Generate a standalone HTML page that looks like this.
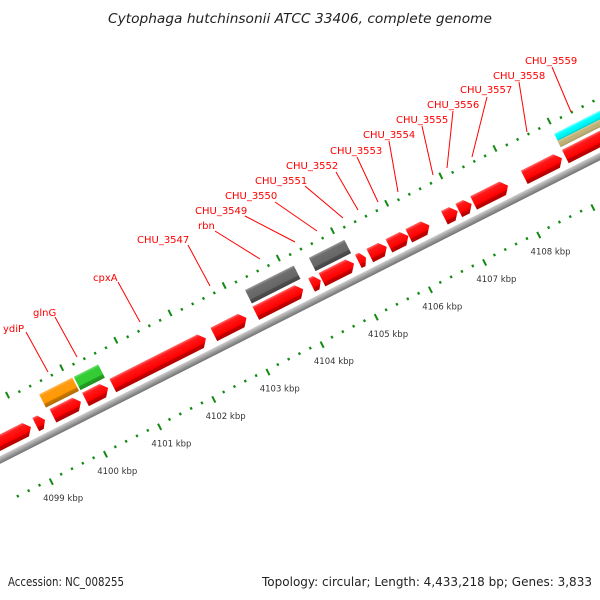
<!DOCTYPE html>
<html><head><meta charset="utf-8">
<style>
html,body{margin:0;padding:0;background:#fff;}
svg{display:block;font-family:"DejaVu Sans","Liberation Sans",sans-serif;}
</style></head>
<body>
<svg id="map" width="600" height="600" viewBox="0 0 600 600" xmlns="http://www.w3.org/2000/svg">
<defs>
<linearGradient id="gRed" x1="0" y1="0" x2="0" y2="1">
<stop offset="0" stop-color="#ff6a6a"/><stop offset="0.18" stop-color="#ff1a1a"/><stop offset="0.7" stop-color="#f00"/><stop offset="0.75" stop-color="#c80000"/><stop offset="1" stop-color="#b00000"/></linearGradient>
<linearGradient id="gGray" x1="0" y1="0" x2="0" y2="1">
<stop offset="0" stop-color="#9a9a9a"/><stop offset="0.18" stop-color="#6e6e6e"/><stop offset="0.7" stop-color="#666"/><stop offset="0.75" stop-color="#4e4e4e"/><stop offset="1" stop-color="#444"/></linearGradient>
<linearGradient id="gOrange" x1="0" y1="0" x2="0" y2="1">
<stop offset="0" stop-color="#ffbb55"/><stop offset="0.18" stop-color="#ff9a10"/><stop offset="0.7" stop-color="#f90"/><stop offset="0.75" stop-color="#c87800"/><stop offset="1" stop-color="#b06a00"/></linearGradient>
<linearGradient id="gGreen" x1="0" y1="0" x2="0" y2="1">
<stop offset="0" stop-color="#77e077"/><stop offset="0.18" stop-color="#3c3"/><stop offset="0.7" stop-color="#3c3"/><stop offset="0.75" stop-color="#26a026"/><stop offset="1" stop-color="#1f8f1f"/></linearGradient>
<linearGradient id="gCyan" x1="0" y1="0" x2="0" y2="1">
<stop offset="0" stop-color="#8ff"/><stop offset="0.3" stop-color="#0ff"/><stop offset="0.8" stop-color="#0ee"/><stop offset="1" stop-color="#0bb"/></linearGradient>
<linearGradient id="gTan" x1="0" y1="0" x2="0" y2="1">
<stop offset="0" stop-color="#d8cc98"/><stop offset="0.3" stop-color="#c2b47a"/><stop offset="0.8" stop-color="#bbad72"/><stop offset="1" stop-color="#998a55"/></linearGradient>
<linearGradient id="gBack" x1="0" y1="0" x2="0" y2="1">
<stop offset="0" stop-color="#d0d0d0"/><stop offset="0.4" stop-color="#a8a8a8"/><stop offset="1" stop-color="#707070"/></linearGradient>
</defs>
<text x="300" y="23" text-anchor="middle" font-size="13" font-style="italic" fill="#222" textLength="384" lengthAdjust="spacingAndGlyphs">Cytophaga hutchinsonii ATCC 33406, complete genome</text>
<g id="band" transform="translate(0,460) rotate(-26.84)"></g>
<g id="overlay"></g>
<text x="8" y="586" font-size="12" fill="#222" textLength="116" lengthAdjust="spacingAndGlyphs">Accession: NC_008255</text>
<text x="592" y="586" text-anchor="end" font-size="12" fill="#222" textLength="330" lengthAdjust="spacingAndGlyphs">Topology: circular; Length: 4,433,218 bp; Genes: 3,833</text>
</svg>
<script>
// ---- data (kbp) ----
const redStarts = [4098.2, 4099.196, 4099.514, 4100.114, 4100.619, 4102.484, 4103.259, 4104.288, 4104.481, 4105.152, 4105.364, 4105.717, 4106.084, 4106.741, 4107.007, 4107.280, 4108.216, 4108.974];
const redEnds   = [4099.107, 4099.367, 4100.030, 4100.532, 4102.338, 4103.087, 4104.133, 4104.458, 4105.072, 4105.293, 4105.677, 4106.076, 4106.464, 4106.985, 4107.245, 4107.916, 4108.911, 4110.2];
const otherStarts = [4099.471, 4100.110, 4103.273, 4104.451, 4108.975];
const otherEnds   = [4100.082, 4100.560, 4104.171, 4105.107, 4110.2];
const otherKinds  = ['orange', 'green', 'gray', 'gray', 'tan'];
const cyanStarts = [4108.98];
const cyanEnds   = [4110.2];
const tickLabels = ['4099 kbp','4100 kbp','4101 kbp','4102 kbp','4103 kbp','4104 kbp','4105 kbp','4106 kbp','4107 kbp','4108 kbp'];
const tickKbp = [4099, 4100, 4101, 4102, 4103, 4104, 4105, 4106, 4107, 4108];
const rulerMin = 4098.4, rulerMax = 4110.0, minorStep = 0.2;
const geneNames = ['ydiP','glnG','cpxA','CHU_3547','rbn','CHU_3549','CHU_3550','CHU_3551','CHU_3552','CHU_3553','CHU_3554','CHU_3555','CHU_3556','CHU_3557','CHU_3558','CHU_3559'];
// label layout (screen px): text left x, baseline y, leader start, leader end
const labelX = [3,33,93,137,198,195,225,255,286,330,363,396,427,460,493,525];
const labelY = [332,316,281,243,229,214,199,184,169,154,138,123,108,93,79,64];
const leadA = [[26,332],[55,317],[118,282],[188,245],[215,231],[245,216],[275,202],[305,186],[336,172],[357,157],[389,141],[422,126],[453,111],[487,97],[519,82],[552,67]];
const leadB = [[48,372],[77,357],[140,322],[210,286],[260,259],[295,242],[317,231],[343,218],[358,210],[378,202],[398,192],[433,175],[447,168],[472,157],[527,132],[571,112]];

// ---- axis functions ----
const PX_PER_KBP = 60.7, U0 = 36;
function U(k){ return U0 + (k - 4099) * PX_PER_KBP; }
const C = Math.cos(26.84*Math.PI/180), S = Math.sin(26.84*Math.PI/180);
function scr(u, v){ return [u*C + v*S, 460 - u*S + v*C]; }

const NS = 'http://www.w3.org/2000/svg';
const band = document.getElementById('band');
const overlay = document.getElementById('overlay');
function mk(tag, attrs, parent){ const e = document.createElementNS(NS, tag); for (const k in attrs) e.setAttribute(k, attrs[k]); parent.appendChild(e); return e; }

// backbone
const bb = mk('rect', {x: -60, y: -3.5, width: 800, height: 7, fill: 'url(#gBack)'}, band);



// rulers
function ruler(v0, dir, name){
  const n = Math.round((rulerMax - rulerMin) / minorStep);
  for (let i = 0; i <= n; i++){
    const k = rulerMin + i * minorStep;
    const major = Math.abs(k - Math.round(k)) < 1e-6;
    const u = U(k);
    const len = major ? 7 : 2.6;
    const t = mk('line', {x1: u, x2: u, y1: v0, y2: v0 + dir*len, stroke: '#138a13', 'stroke-width': major ? 2 : 2.2}, band);
    
    
  }
}
ruler(-51, -1, 'outer-ruler');
ruler(39, 1, 'inner-ruler');

// tick labels
tickKbp.forEach((k, i) => {
  const p = scr(U(k), 42);
  const t = mk('text', {x: p[0] - 8, y: p[1] + 20, 'font-size': 8.5, fill: '#333'}, overlay);
  t.textContent = tickLabels[i];
  
  
});

// features
function arrow(k0, k1, v0, v1, fill, head){
  const u0 = U(k0), u1 = U(k1);
  const h = head ? Math.min(6, (u1 - u0) * 0.5) : 0;
  const vm = (v0 + v1) / 2;
  const pts = head ? [[u0,v0],[u1-h,v0],[u1,vm],[u1-h,v1],[u0,v1]] : [[u0,v0],[u1,v0],[u1,v1],[u0,v1]];
  return mk('polygon', {points: pts.map(p => p.join(',')).join(' '), fill: fill}, band);
}
redStarts.forEach((s, i) => {
  const a = arrow(s, redEnds[i], -23, -8, 'url(#gRed)', true);
  
  
});
const fills = {orange: 'url(#gOrange)', green: 'url(#gGreen)', gray: 'url(#gGray)', tan: 'url(#gTan)'};
otherStarts.forEach((s, i) => {
  const kind = otherKinds[i];
  const v0 = kind === 'tan' ? -33 : -41;
  const a = arrow(s, otherEnds[i], v0, -26, fills[kind], false);
  
  
});
cyanStarts.forEach((s, i) => {
  const a = arrow(s, cyanEnds[i], -41, -33, 'url(#gCyan)', false);
  
  
});

// gene labels
geneNames.forEach((g, i) => {
  const l = mk('line', {x1: leadA[i][0], y1: leadA[i][1], x2: leadB[i][0], y2: leadB[i][1], stroke: '#f00', 'stroke-width': 1}, overlay);
  
  
  const t = mk('text', {x: labelX[i], y: labelY[i], 'font-size': 10, fill: '#f00'}, overlay);
  t.textContent = g;
  
  
});
</script>
</body></html>
